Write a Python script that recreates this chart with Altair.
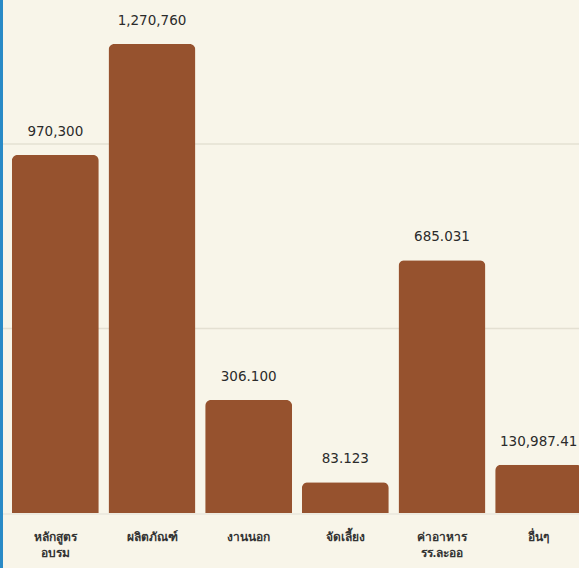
import altair as alt
import pandas as pd

categories = ["หลักสูตร\nอบรม", "ผลิตภัณฑ์", "งานนอก", "จัดเลี้ยง", "ค่าอาหาร\nรร.ละออ", "อื่นๆ"]
values = [970300, 1270760, 306100, 83123, 685031, 130987.41]
value_labels = ["970,300", "1,270,760", "306.100", "83.123", "685.031", "130,987.41"]
grid_values = [500000, 1000000]

df = pd.DataFrame({"cat": categories, "val": values, "lbl": value_labels})
grid_df = pd.DataFrame({"g": grid_values})

BROWN = "#96522E"
BG = "#F8F5E9"

x_enc = alt.X(
    "cat:N",
    sort=categories,
    scale=alt.Scale(range=[7, 587], paddingInner=0.1, paddingOuter=0.05),
    axis=alt.Axis(
        title=None,
        labelAngle=0,
        labelFont="Noto Sans",
        labelFontSize=12,
        labelFontWeight="bold",
        labelColor="#333333",
        labelPadding=18,
        labelLineHeight=16,
        labelExpr="split(datum.label, '\\n')",
        domain=False,
        ticks=False,
        labelOverlap=False,
        labelBound=False,
        labelFlush=False,
    ),
)
y_scale = alt.Scale(domain=[0, 1390000], nice=False, zero=True)

grid = alt.Chart(grid_df).mark_rule(color="#E4E0D2", strokeWidth=1.5).encode(
    y=alt.Y("g:Q", scale=y_scale, axis=None),
    x=alt.value(3),
    x2=alt.value(579),
)

base_line = alt.Chart(grid_df).mark_rule(color="#EDEADF", strokeWidth=2).encode(
    y=alt.value(514),
    x=alt.value(3),
    x2=alt.value(579),
)

bars = alt.Chart(df).mark_bar(
    color=BROWN, cornerRadiusTopLeft=6, cornerRadiusTopRight=6
).encode(
    x=x_enc,
    y=alt.Y("val:Q", scale=y_scale, axis=None),
)

text = alt.Chart(df).mark_text(
    font="DejaVu Sans",
    fontSize=13.5,
    fontWeight=500,
    color="#2B2B2B",
    baseline="alphabetic",
    dy=-19,
).encode(
    x=alt.X("cat:N", sort=categories),
    y=alt.Y("val:Q", scale=y_scale, axis=None),
    text="lbl:N",
)

blue = alt.Chart(grid_df).mark_rule(color="#2A8AC6", strokeWidth=3).encode(
    x=alt.value(1.5),
    y=alt.value(0),
    y2=alt.value(568),
)

chart = alt.layer(grid, base_line, bars, text, blue).properties(
    width=579,
    height=513,
    autosize=alt.AutoSizeParams(type="none"),
    padding={"left": 0, "right": 0, "top": 0, "bottom": 55},
    background=BG,
).configure_view(stroke=None)

chart.save("out.html", embed_options={"renderer": "svg", "actions": False})
